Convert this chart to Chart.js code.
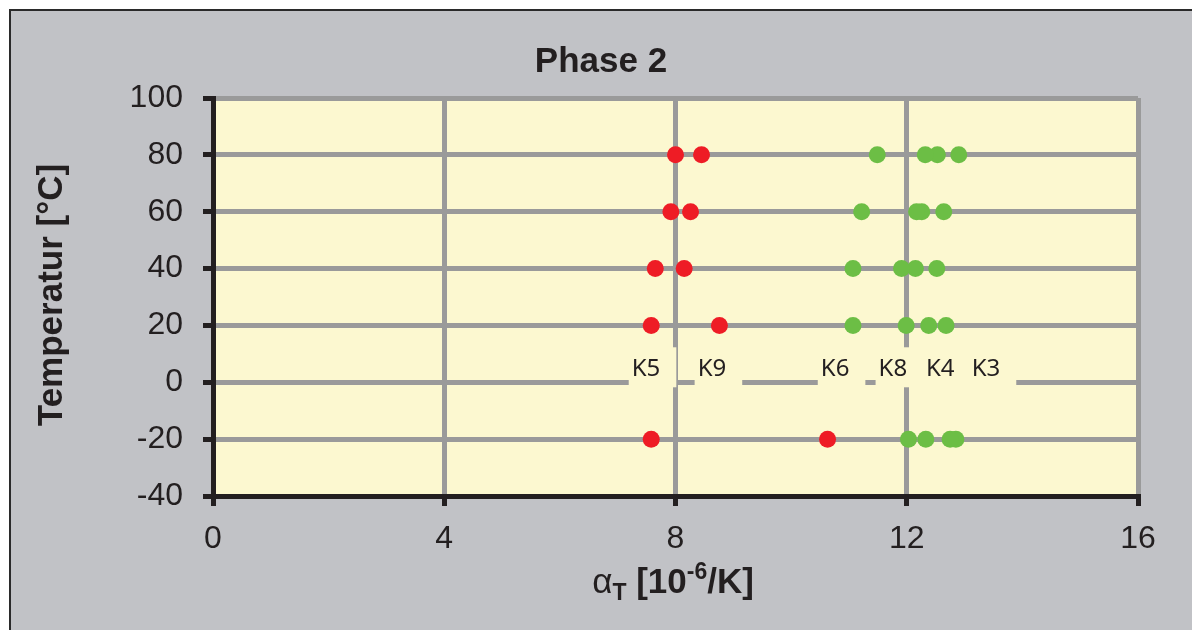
<!DOCTYPE html>
<html>
<head>
<meta charset="utf-8">
<script src="https://cdn.jsdelivr.net/npm/chart.js@4/dist/chart.umd.min.js"></script>
<style>
html, body { margin: 0; padding: 0; background: #fff; }
#wrap { width: 1192px; height: 630px; }
</style>
</head>
<body>
<div id="wrap"><canvas id="c" width="1192" height="630"></canvas></div>
<script>
// temperatures [°C] for each row of measurements
const temps = [-20, 20, 40, 60, 80];

// alpha_T values [10^-6/K]
const redLow  = [7.58, 7.58, 7.65, 7.92, 8.00];
const redHigh = [10.63, 8.76, 8.15, 8.26, 8.45];
const green1 = [12.03, 11.07, 11.07, 11.22, 11.49];
const green2 = [12.33, 11.99, 11.91, 12.17, 12.32];
const green3 = [12.75, 12.38, 12.15, 12.26, 12.53];
const green4 = [12.85, 12.68, 12.52, 12.64, 12.90];

// sample labels on the 0 °C line
const sampleNames = ['K5', 'K9', 'K6', 'K8', 'K4', 'K3'];
const sampleX = [7.49, 8.63, 10.76, 11.76, 12.58, 13.37];

const xTicks = [0, 4, 8, 12, 16];
const yTicks = [-40, -20, 0, 20, 40, 60, 80, 100];

const RED = '#EE1C25';
const GREEN = '#6CBE45';

function pts(xs) {
    return xs.map((x, i) => ({ x: x, y: temps[i] }));
}

function dotSet(xs, color) {
    return {
        data: pts(xs),
        backgroundColor: color,
        borderColor: color,
        borderWidth: 0,
        pointRadius: 8.5,
        pointHoverRadius: 8.5
    };
}

const frame = {
    id: 'frame',
    beforeDraw(chart) {
        const ctx = chart.ctx;
        const a = chart.chartArea;
        ctx.save();
        ctx.fillStyle = '#ffffff';
        ctx.fillRect(0, 0, chart.width, chart.height);
        ctx.fillStyle = '#C1C2C6';
        ctx.fillRect(10, 10, chart.width - 10, chart.height - 10);
        ctx.strokeStyle = '#2a2a2a';
        ctx.lineWidth = 2;
        ctx.beginPath();
        ctx.moveTo(10, chart.height);
        ctx.lineTo(10, 10);
        ctx.lineTo(chart.width, 10);
        ctx.stroke();
        ctx.fillStyle = '#FCF8D0';
        ctx.fillRect(a.left, a.top, a.right - a.left, a.bottom - a.top);
        ctx.restore();
    },
    beforeDatasetsDraw(chart) {
        // sample names with a box in plot colour that hides the grid behind
        const ctx = chart.ctx;
        const xs = chart.scales.x, ys = chart.scales.y;
        ctx.save();
        ctx.font = '24px "Noto Sans", "Open Sans", sans-serif';
        ctx.textAlign = 'center';
        ctx.textBaseline = 'middle';
        const y0 = ys.getPixelForValue(0);
        sampleNames.forEach((n, i) => {
            const cx = xs.getPixelForValue(sampleX[i]);
            const w = ctx.measureText(n).width;
            ctx.fillStyle = '#FCF8D0';
            ctx.fillRect(cx - w / 2 - 3, y0 - 35, w + 19, 40);
        });
        ctx.fillStyle = '#231F20';
        sampleNames.forEach((n, i) => {
            const cx = xs.getPixelForValue(sampleX[i]);
            ctx.fillText(n, cx, y0 - 13);
        });
        ctx.restore();
    },
    afterDraw(chart) {
        const ctx = chart.ctx;
        ctx.save();
        ctx.fillStyle = '#231F20';
        // title
        ctx.font = 'bold 35px "Liberation Sans", Arial, sans-serif';
        ctx.textAlign = 'center';
        ctx.textBaseline = 'alphabetic';
        ctx.fillText('Phase 2', 601, 72);
        // y title
        ctx.save();
        ctx.translate(62, 295);
        ctx.rotate(-Math.PI / 2);
        ctx.font = 'bold 35px "Liberation Sans", Arial, sans-serif';
        ctx.fillText('Temperatur [°C]', 0, 0);
        ctx.restore();
        // x title with subscript and superscript
        const big = 'bold 35px "Liberation Sans", Arial, sans-serif';
        const small = 'bold 23px "Liberation Sans", Arial, sans-serif';
        const parts = [
            { t: 'α', f: '35px "Liberation Sans", Arial, sans-serif', dy: 0 },
            { t: 'T', f: small, dy: 7 },
            { t: ' [10', f: big, dy: 0 },
            { t: '-6', f: small, dy: -14 },
            { t: '/K]', f: big, dy: 0 }
        ];
        let total = 0;
        parts.forEach(p => { ctx.font = p.f; p.w = ctx.measureText(p.t).width; total += p.w; });
        let x = 673 - total / 2;
        ctx.textAlign = 'left';
        parts.forEach(p => {
            ctx.font = p.f;
            ctx.fillText(p.t, x, 593 + p.dy);
            x += p.w;
        });
        ctx.restore();
    }
};

new Chart(document.getElementById('c'), {
    type: 'scatter',
    data: {
        datasets: [
            dotSet(redLow, RED),
            dotSet(redHigh, RED),
            dotSet(green1, GREEN),
            dotSet(green2, GREEN),
            dotSet(green3, GREEN),
            dotSet(green4, GREEN)
        ]
    },
    options: {
        responsive: false,
        animation: false,
        events: [],
        layout: { padding: { top: 98, right: 54, left: 0, bottom: 0 } },
        plugins: {
            legend: { display: false },
            tooltip: { enabled: false },
            title: { display: false }
        },
        scales: {
            x: {
                type: 'linear',
                min: xTicks[0],
                max: xTicks[xTicks.length - 1],
                afterBuildTicks(s) { s.ticks = xTicks.map(v => ({ value: v })); },
                afterFit(s) { s.height = 134; },
                grid: {
                    color: '#9A9A9A',
                    lineWidth: 5,
                    tickColor: '#231F20',
                    tickWidth: 5,
                    tickLength: 10
                },
                border: { color: '#231F20', width: 5 },
                ticks: {
                    color: '#231F20',
                    padding: 14,
                    maxRotation: 0,
                    font: { family: '"Liberation Sans", Arial, sans-serif', size: 32 }
                }
            },
            y: {
                type: 'linear',
                min: yTicks[0],
                max: yTicks[yTicks.length - 1],
                afterBuildTicks(s) { s.ticks = yTicks.map(v => ({ value: v })); },
                afterFit(s) { s.width = 213; },
                grid: {
                    color: '#9A9A9A',
                    lineWidth: 5,
                    tickColor: '#231F20',
                    tickWidth: 5,
                    tickLength: 10
                },
                border: { color: '#231F20', width: 5 },
                ticks: {
                    color: '#231F20',
                    padding: 20,
                    font: { family: '"Liberation Sans", Arial, sans-serif', size: 32 }
                }
            }
        }
    },
    plugins: [frame]
});
</script>
</body>
</html>
